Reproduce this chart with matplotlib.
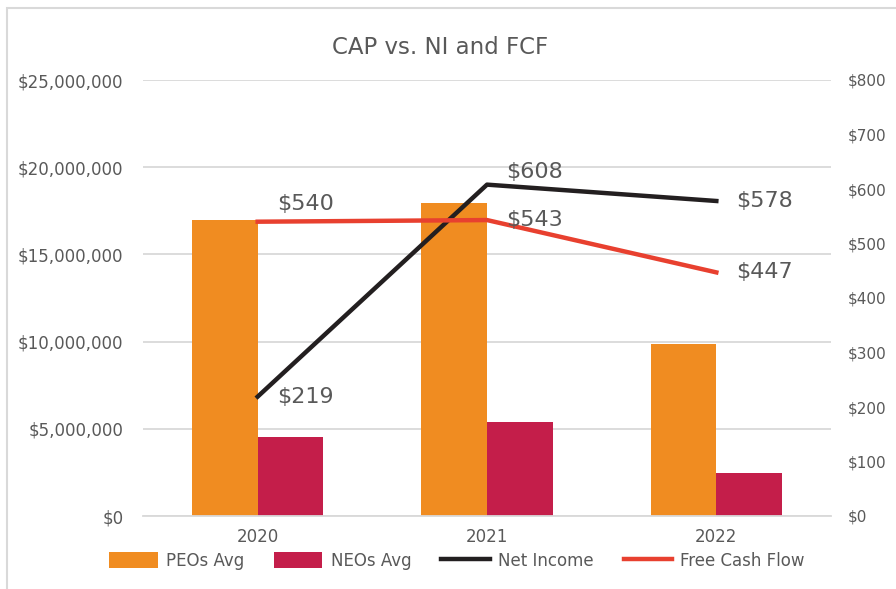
import matplotlib.pyplot as plt
import matplotlib.patches as mpatches
from matplotlib.ticker import FuncFormatter
import numpy as np

# data
years = ["2020", "2021", "2022"]
peos_avg = [17000000, 17950000, 9870000]
neos_avg = [4530000, 5390000, 2470000]
net_income = [219, 608, 578]
free_cash_flow = [540, 543, 447]

orange = '#f08c21'
crimson = '#c41e4a'
black = '#231f20'
red = '#e8402f'
grey = '#595959'

x = np.arange(len(years))
bar_width = 0.286

fig = plt.figure(figsize=(8.96, 5.89), dpi=100)
ax1 = fig.add_axes([143/896, 1 - 516/589, 688/896, 436/589])

# frame around the chart
fig.patches.append(mpatches.Rectangle((7/896, -0.1), 1.2, 1 - 8/589 + 0.1,
                                      transform=fig.transFigure, fill=False,
                                      edgecolor='#d9d9d9', linewidth=1.5))

ax1.bar(x - bar_width/2, peos_avg, bar_width, color=orange, label='PEOs Avg', zorder=2)
ax1.bar(x + bar_width/2, neos_avg, bar_width, color=crimson, label='NEOs Avg', zorder=2)
ax1.set_xlim(-0.5, 2.5)
ax1.set_ylim(0, 25000000)
ax1.set_yticks(np.arange(0, 25000001, 5000000))
ax1.yaxis.set_major_formatter(FuncFormatter(lambda v, p: '${:,.0f}'.format(v)))
ax1.grid(axis='y', color='#d9d9d9', linewidth=1.3, zorder=0)
ax1.set_axisbelow(True)
for s in ['top', 'right', 'left']:
    ax1.spines[s].set_visible(False)
ax1.spines['bottom'].set_color('#d9d9d9')
ax1.spines['bottom'].set_linewidth(1.3)
ax1.set_xticks(x)
ax1.set_xticklabels(years)
ax1.tick_params(axis='both', length=0, labelsize=12, labelcolor=grey)
ax1.tick_params(axis='y', pad=14)
ax1.tick_params(axis='x', pad=9)

ax2 = ax1.twinx()
ax2.plot(x, net_income, color=black, linewidth=3.2, label='Net Income', zorder=3)
ax2.plot(x, free_cash_flow, color=red, linewidth=3.2, label='Free Cash Flow', zorder=3)
ax2.set_ylim(0, 800)
ax2.set_yticks(np.arange(0, 801, 100))
ax2.yaxis.set_major_formatter(FuncFormatter(lambda v, p: '${:,.0f}'.format(v)))
for s in ['top', 'right', 'left', 'bottom']:
    ax2.spines[s].set_visible(False)
ax2.tick_params(axis='y', length=0, labelsize=11, labelcolor=grey, pad=12)

# data labels
ni_offsets = [(14, 0), (14, 9), (14, 0)]
fcf_offsets = [(14, 13), (14, 0), (14, 0)]
for i, v in enumerate(net_income):
    ax2.annotate('${}'.format(v), (x[i], v), xytext=ni_offsets[i], textcoords='offset points',
                 fontsize=16, color=grey, va='center', ha='left')
for i, v in enumerate(free_cash_flow):
    ax2.annotate('${}'.format(v), (x[i], v), xytext=fcf_offsets[i], textcoords='offset points',
                 fontsize=16, color=grey, va='center', ha='left')

fig.text(440/896, 1 - 48/589, 'CAP vs. NI and FCF', ha='center', va='center',
         fontsize=16.5, color=grey)

h1, l1 = ax1.get_legend_handles_labels()
h2, l2 = ax2.get_legend_handles_labels()
fig.legend(h1 + h2, l1 + l2, loc='center', bbox_to_anchor=(457/896, 1 - 561/589),
           ncol=4, frameon=False, fontsize=12, labelcolor=grey,
           handlelength=2.9, handleheight=1.1, columnspacing=1.8, handletextpad=0.5)

plt.savefig('out.png', dpi=100)
